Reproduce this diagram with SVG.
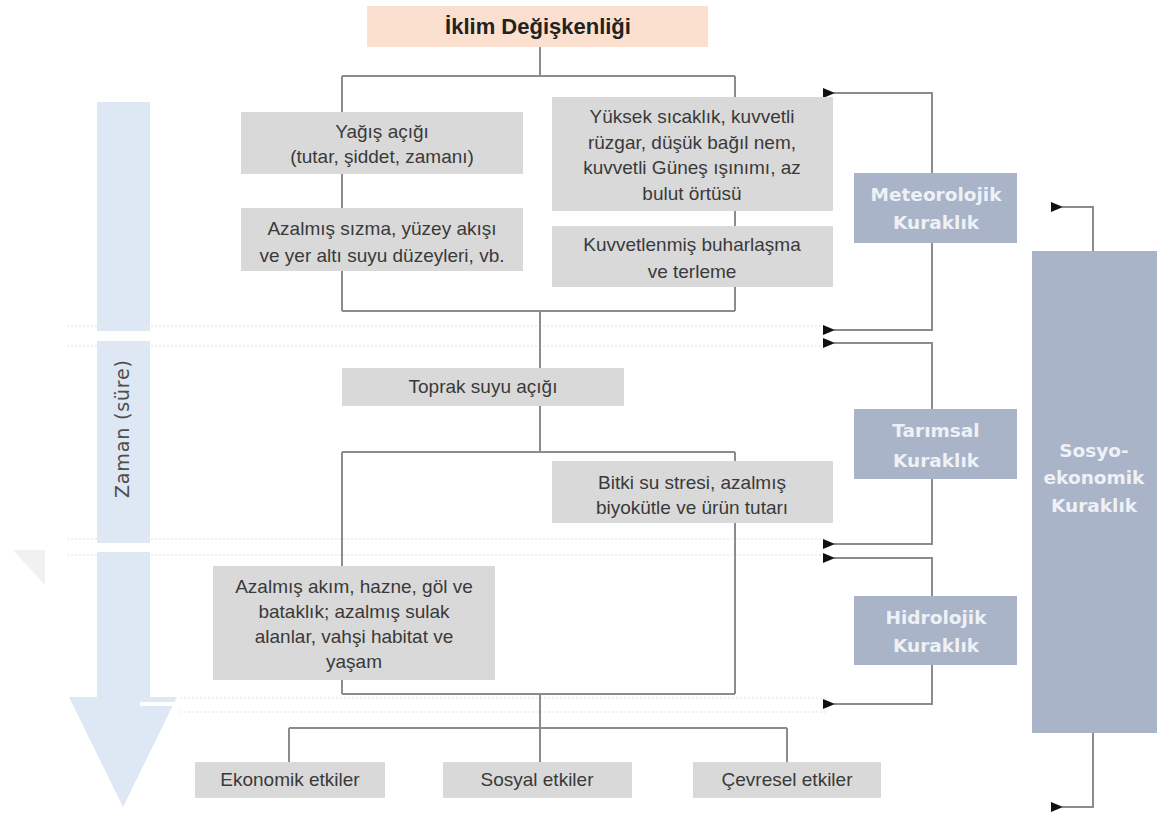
<svg xmlns="http://www.w3.org/2000/svg" width="1162" height="819" viewBox="0 0 1162 819">
<style>
.gbox{fill:#d9d9d9}
.bbox{fill:#a9b4c8}
.gt{font-family:"Liberation Sans",Arial,sans-serif;font-size:19px;fill:#3a3a3a;text-anchor:middle}
.bt{font-family:"DejaVu Sans",Verdana,sans-serif;font-weight:bold;font-size:18.5px;fill:#eef1f6;text-anchor:middle}
.ln{stroke:#8c8c8c;stroke-width:2;fill:none}
.dot{stroke:#ececec;stroke-width:1.5;stroke-dasharray:2 2;fill:none}
</style>
<defs>
<marker id="ah" viewBox="0 0 12 10" refX="1" refY="5" markerWidth="12" markerHeight="10" markerUnits="userSpaceOnUse" orient="auto-start-reverse">
<path d="M0,5 L12,0 L12,10 Z" fill="#111"/>
</marker>
</defs>
<rect width="1162" height="819" fill="#fff"/>
<g id="time-arrow">
<rect x="97" y="102" width="53" height="596" fill="#dde8f4"/>
<polygon points="69,697 177,697 123,807" fill="#dde8f4"/>
<text transform="translate(129,429) rotate(-90)" font-family="DejaVu Sans, Verdana, sans-serif" font-size="19" fill="#4f4f4f" text-anchor="middle" textLength="138" lengthAdjust="spacing">Zaman (süre)</text>
</g>
<polygon points="13,550 45,550 45,585" fill="#f1f1f1"/>
<g id="bands">
<rect x="67" y="331" width="763" height="10" fill="#fff"/>
<rect x="67" y="543" width="763" height="9" fill="#fff"/>
<rect x="140" y="702" width="690" height="4" fill="#fff"/>
<line class="dot" x1="67" y1="326" x2="826" y2="326"/>
<line class="dot" x1="67" y1="346" x2="826" y2="346"/>
<line class="dot" x1="67" y1="539" x2="826" y2="539"/>
<line class="dot" x1="67" y1="555" x2="826" y2="555"/>
<line class="dot" x1="180" y1="698" x2="826" y2="698"/>
<line class="dot" x1="180" y1="712" x2="826" y2="712"/>
</g>
<g id="connectors">
<path class="ln" d="M540,47 V76 M342,76 H735 M342,76 V112 M735,76 V97"/>
<path class="ln" d="M342,174 V208 M735,211 V226"/>
<path class="ln" d="M342,271 V311 M735,287 V311 M342,311 H735 M540,311 V368"/>
<path class="ln" d="M540,406 V452 M342,452 H735 M342,452 V566 M735,452 V461 M735,523 V694 M342,680 V694 M342,694 H735"/>
<path class="ln" d="M540,694 V728 M289,728 H787 M289,728 V762 M540,728 V762 M787,728 V762"/>
<path class="ln" d="M932,173 V93 H834" marker-end="url(#ah)"/>
<path class="ln" d="M932,243 V330 H834" marker-end="url(#ah)"/>
<path class="ln" d="M932,409 V343 H834" marker-end="url(#ah)"/>
<path class="ln" d="M932,479 V544 H834" marker-end="url(#ah)"/>
<path class="ln" d="M932,596 V558 H834" marker-end="url(#ah)"/>
<path class="ln" d="M932,665 V704 H834" marker-end="url(#ah)"/>
<path class="ln" d="M1093,251 V207 H1062" marker-end="url(#ah)"/>
<path class="ln" d="M1093,733 V807 H1062" marker-end="url(#ah)"/>
</g>
<g id="iklim">
<rect x="367" y="6" width="341" height="41" fill="#fbe0d0"/>
<text x="538" y="34" font-family="Liberation Sans, Arial, sans-serif" font-weight="bold" font-size="22" fill="#222" text-anchor="middle">İklim Değişkenliği</text>
</g>
<g id="yagis">
<rect class="gbox" x="241" y="112" width="282" height="62"/>
<text class="gt" x="382" y="138">Yağış açığı</text>
<text class="gt" x="382" y="163">(tutar, şiddet, zamanı)</text>
</g>
<g id="sizma">
<rect class="gbox" x="241" y="208" width="282" height="63"/>
<text class="gt" x="382" y="235">Azalmış sızma, yüzey akışı</text>
<text class="gt" x="382" y="262">ve yer altı suyu düzeyleri, vb.</text>
</g>
<g id="yuksek">
<rect class="gbox" x="552" y="97" width="281" height="114"/>
<text class="gt" x="692" y="123">Yüksek sıcaklık, kuvvetli</text>
<text class="gt" x="692" y="149">rüzgar, düşük bağıl nem,</text>
<text class="gt" x="692" y="174">kuvvetli Güneş ışınımı, az</text>
<text class="gt" x="692" y="200">bulut örtüsü</text>
</g>
<g id="buharlasma">
<rect class="gbox" x="552" y="226" width="281" height="61"/>
<text class="gt" x="692" y="251">Kuvvetlenmiş buharlaşma</text>
<text class="gt" x="692" y="278">ve terleme</text>
</g>
<g id="toprak">
<rect class="gbox" x="342" y="368" width="282" height="38"/>
<text class="gt" x="483" y="393">Toprak suyu açığı</text>
</g>
<g id="bitki">
<rect class="gbox" x="552" y="461" width="281" height="62"/>
<text class="gt" x="692" y="489">Bitki su stresi, azalmış</text>
<text class="gt" x="692" y="514">biyokütle ve ürün tutarı</text>
</g>
<g id="akim">
<rect class="gbox" x="213" y="566" width="282" height="114"/>
<text class="gt" x="354" y="593">Azalmış akım, hazne, göl ve</text>
<text class="gt" x="354" y="618">bataklık; azalmış sulak</text>
<text class="gt" x="354" y="643">alanlar, vahşi habitat ve</text>
<text class="gt" x="354" y="668">yaşam</text>
</g>
<g id="ekonomik">
<rect class="gbox" x="195" y="762" width="190" height="36"/>
<text class="gt" x="290" y="786">Ekonomik etkiler</text>
</g>
<g id="sosyal">
<rect class="gbox" x="443" y="762" width="189" height="36"/>
<text class="gt" x="537" y="786">Sosyal etkiler</text>
</g>
<g id="cevresel">
<rect class="gbox" x="693" y="762" width="188" height="36"/>
<text class="gt" x="787" y="786">Çevresel etkiler</text>
</g>
<g id="meteorolojik">
<rect class="bbox" x="854" y="173" width="163" height="70"/>
<text class="bt" x="936" y="201">Meteorolojik</text>
<text class="bt" x="936" y="229">Kuraklık</text>
</g>
<g id="tarimsal">
<rect class="bbox" x="854" y="409" width="163" height="70"/>
<text class="bt" x="936" y="437">Tarımsal</text>
<text class="bt" x="936" y="467">Kuraklık</text>
</g>
<g id="hidrolojik">
<rect class="bbox" x="854" y="596" width="163" height="69"/>
<text class="bt" x="936" y="624">Hidrolojik</text>
<text class="bt" x="936" y="652">Kuraklık</text>
</g>
<g id="sosyoekonomik">
<rect class="bbox" x="1032" y="251" width="125" height="482"/>
<text class="bt" x="1094" y="457">Sosyo-</text>
<text class="bt" x="1094" y="484">ekonomik</text>
<text class="bt" x="1094" y="512">Kuraklık</text>
</g>
</svg>
